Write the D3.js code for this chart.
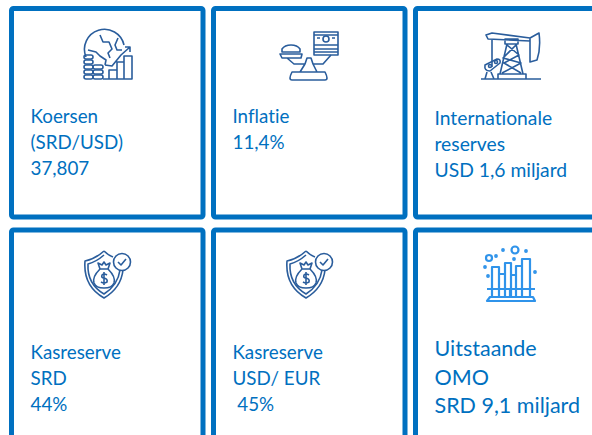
<!DOCTYPE html>
<html>
  <head>
    <meta charset="utf-8">
    <script src="https://d3js.org/d3.v7.min.js"></script>
    <style>
      html, body {margin:0; padding:0; background:#fff; overflow:hidden;}
      svg {display:block;}
      text {font-family:"Lato","Open Sans",sans-serif; fill:#0070c0; font-variant-ligatures:none;}
    </style>
  </head>
  <body>
    <div id="chart1"></div>
    <script>
      var cardLabels = [
        ["Koersen", "(SRD/USD)", "37,807"],
        ["Inflatie", "11,4%"],
        ["Internationale", "reserves", "USD 1,6 miljard"],
        ["Kasreserve", "SRD", "44%"],
        ["Kasreserve", "USD/ EUR", "\u00a045%"],
        ["Uitstaande", "OMO", "SRD 9,1 miljard"]
      ];
      var cardIcons = ["globe", "scale", "pump", "shield", "shield", "bars"];
      var rowNames = [0, 1];
      var colNames = [0, 1, 2];

      var width = 592, height = 435;
      var blue = "#0070c0", iconBlue = "#2a5d9c", iconLight = "#2f93ea";

      var svg = d3.select("#chart1").append("svg")
        .attr("width", width)
        .attr("height", height);

      var x = d3.scaleBand().domain(colNames).range([9, 609.5]).paddingInner(0.0272).paddingOuter(0);
      var y = d3.scaleBand().domain(rowNames).range([6, 441]).paddingInner(0.036).paddingOuter(0);

      // text baseline of the first line + line step, per card
      var textPos = [
        {dx: 21.5, top: 123, step: 26, size: 18.8},
        {dx: 21.5, top: 122.5, step: 26.5, size: 18.8},
        {dx: 21.5, top: 125, step: 26, size: 19.3},
        {dx: 21.5, top: 358.5, step: 26, size: 18.8},
        {dx: 21.5, top: 358.5, step: 26, size: 18.8},
        {dx: 21.5, top: 356, step: 28.5, size: 21.5}
      ];
      var iconPos = [[108, 58], [309, 55], [510, 50], [105, 274], [307, 274], [511, 276]];

      var icons = {
        globe: function(g) {
          g.append("path").attr("d", "M-22,-1 A20,20 0 1 1 16,-13 M-20,-8 L-12,-6 L-8,-2 L-2,2 L-3,7 M-8,-23 L-5,-16 L1,-16 L4,-9 L0,-5 L2,0 M10,-20 L7,-13 L9,-8 L14,-8");
          [16, 11, 6, 1, -4].forEach(function(cy) {
            g.append("rect").attr("x", -24).attr("y", cy + 1).attr("width", 9).attr("height", 4).attr("rx", 2);
          });
          [16, 11, 6].forEach(function(cy) {
            g.append("rect").attr("x", -15).attr("y", cy + 1).attr("width", 10).attr("height", 4).attr("rx", 2);
          });
          g.append("path").attr("d", "M1,21 V12 H9 V21 M9,21 V4 H16 V21 M16,21 V-2 H24 V21 Z M-5,21 H24 M-3,7 L4,8 L13,-3 L22,-11 M17,-11 H22 V-6");
        },
        scale: function(g) {
          g.append("path").attr("d", "M-27,-3 V-6 A10,7 0 0 1 -9,-6 V-3 Z M-29,-1 H-7 L-8,3 H-27 Z M-22,3 L-15,9 H-4 M22,0 L14,9 H4 M-4,9 L-2,3 H2 L4,9 L8,17 M-4,9 L-9,17 M-17,17 H16 Q20,25 16,25 H-17 Q-21,25 -17,17 Z");
          g.append("rect").attr("x", 5).attr("y", -23).attr("width", 24).attr("height", 23);
          g.append("path").attr("d", "M5,-10 H29 M5,-6 H29 M5,-3 H29 M8,-17 h3 M23,-17 h3 M5,-20 H29");
          g.append("circle").attr("cx", 17).attr("cy", -16).attr("r", 3);
        },
        pump: function(g) {
          g.append("path").attr("d", "M-24,-15 L-18,-17 L20,-12 V-9 L-22,-11 Z M20,-12 L29,-17 Q31,-2 27,10 L20,12 V-9 M-18,-11 V17 M-5,-11 H8 V-6 H-5 Z M-3,-6 L-10,24 M6,-6 L13,24 M-3,-5 L9,5 L-6,13 L11,23 M6,-5 L-7,8 L11,13 L-8,23 M-12,24 H16 V29 H-12 Z M-29,29 H31 M-23,22 L-25,29 M-19,22 L-16,29");
          g.append("path").attr("d", "M-25,15 L-13,9 Q-9,9 -10,13 L-20,21 Q-26,21 -25,15 Z");
          g.append("circle").attr("cx", -20).attr("cy", 16).attr("r", 1.5);
          g.append("circle").attr("cx", -14).attr("cy", 12).attr("r", 1.5);
        },
        shield: function(g) {
          g.append("path").attr("d", "M-1,-23 Q-10,-15 -20,-13 Q-22,12 -1,24 Q16,14 18,-4");
          g.append("path").attr("d", "M-1,-19 Q-9,-12 -17,-10 Q-18,10 -1,20 Q13,11 15,-4");
          g.append("path").attr("d", "M-1,-23 Q3,-19 8,-17");
          g.append("path").attr("d", "M-5,-5 L-7,-11 L-3,-9 L-1,-12 L1,-9 L5,-11 L3,-5 Z M-5,-5 Q-13,3 -11,9 Q-9,14 -1,14 Q7,14 9,9 Q11,3 3,-5");
          g.append("path").attr("d", "M2,1 Q-1,-1 -3,1 Q-4,4 -1,4 Q3,5 2,8 Q-1,10 -4,8 M-1,-2 V11");
          g.append("circle").attr("cx", 17).attr("cy", -12).attr("r", 8.5).attr("fill", "#fff");
          g.append("path").attr("d", "M13,-12 L16,-9 L21,-15");
        },
        bars: function(g) {
          g.attr("stroke-width", 2.2);
          g.append("path").attr("d", "M-19,21 V-9 H-12 V21 M-12,-2 H-6 M-6,21 V-13 H0 V21 M0,-1 H5 M5,21 V-10 H11 V21 M11,21 V-17 H19 V21 M-24,13 H24 M-12,13 V21 M-1,13 V21");
          g.append("path").attr("d", "M-21,21 H22 L24,25 H-24 Z");
          g.append("circle").attr("cx", -22).attr("cy", -18).attr("r", 3);
          g.append("circle").attr("cx", 4).attr("cy", -26).attr("r", 3.5);
          [[-15,-20],[-8,-26],[3,-17],[15,-25],[-26,-9],[-23,0],[24,-4]].forEach(function(p) {
            g.append("circle").attr("cx", p[0]).attr("cy", p[1]).attr("r", 0.8).attr("fill", iconLight);
          });
        }
      };

      var cards = svg.selectAll("g.card")
        .data(cardLabels)
        .enter()
        .append("g")
        .attr("class", "card");

      cards.append("rect")
        .attr("x", function(d, i) { return x(i % 3) + 2.5; })
        .attr("y", function(d, i) { return y(Math.floor(i / 3)) + 2.5; })
        .attr("width", x.bandwidth() - 5)
        .attr("height", y.bandwidth() - 5)
        .attr("rx", 2)
        .attr("fill", "#fff")
        .attr("stroke", blue)
        .attr("stroke-width", 5);

      cards.each(function(d, i) {
        var card = d3.select(this);
        var pos = textPos[i];
        card.selectAll("text")
          .data(d)
          .enter()
          .append("text")
          .attr("x", x(i % 3) + pos.dx)
          .attr("y", function(t, j) { return pos.top + j * pos.step; })
          .style("font-size", pos.size + "px")
          .text(function(t) { return t; });

        var name = cardIcons[i];
        var icon = card.append("g")
          .attr("transform", "translate(" + iconPos[i][0] + "," + iconPos[i][1] + ")")
          .attr("fill", "none")
          .attr("stroke", name == "bars" ? iconLight : iconBlue)
          .attr("stroke-width", 1.6)
          .attr("stroke-linejoin", "round");
        icons[name](icon);
      });
    </script>
  </body>
</html>
